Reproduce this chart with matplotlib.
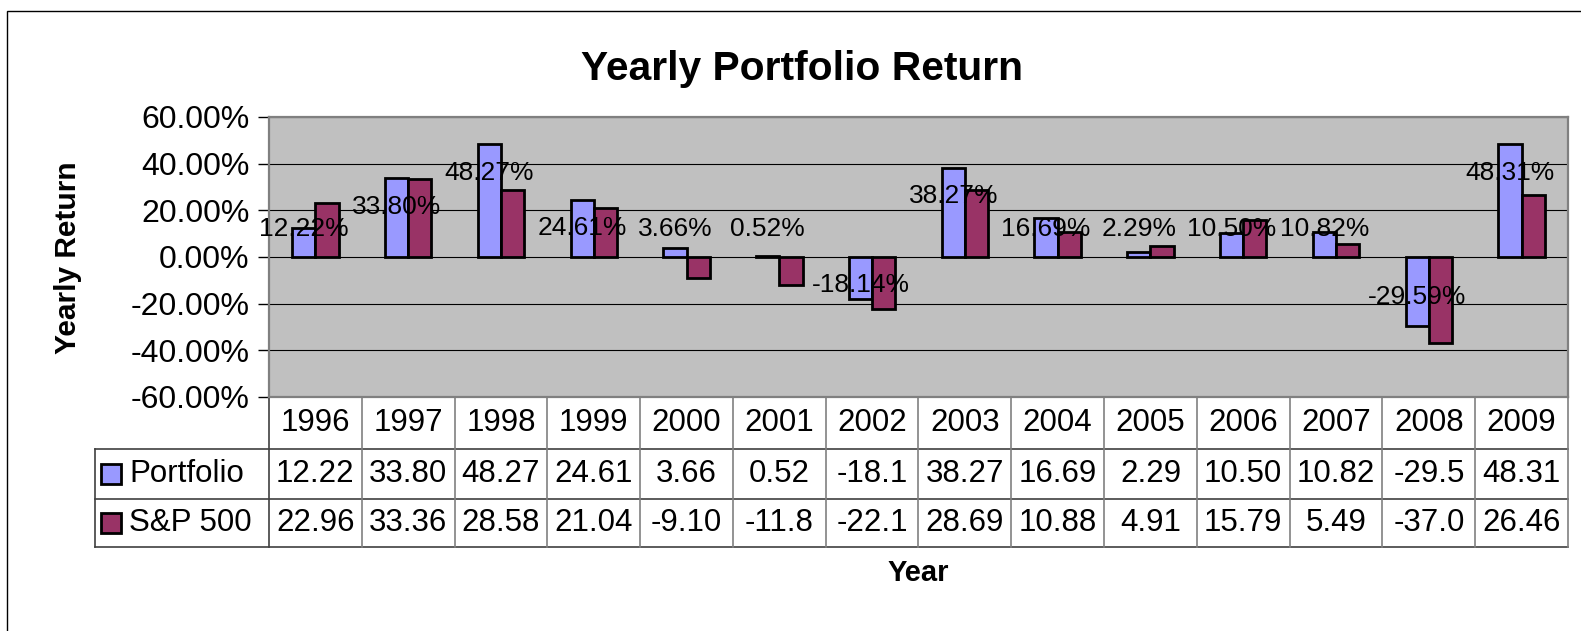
import matplotlib
matplotlib.use("Agg")
from matplotlib import pyplot as plt
from matplotlib.patches import Rectangle
from matplotlib.lines import Line2D
import numpy as np

plt.rcParams['font.family'] = ['Liberation Sans', 'DejaVu Sans']

# data
years = ['1996', '1997', '1998', '1999', '2000', '2001', '2002',
         '2003', '2004', '2005', '2006', '2007', '2008', '2009']
portfolio = [12.22, 33.80, 48.27, 24.61, 3.66, 0.52, -18.14,
             38.27, 16.69, 2.29, 10.50, 10.82, -29.59, 48.31]
sp500 = [22.96, 33.36, 28.58, 21.04, -9.10, -11.89, -22.10,
         28.69, 10.88, 4.91, 15.79, 5.49, -37.00, 26.46]
series_names = ['Portfolio', 'S&P 500']
yticks = [-60, -40, -20, 0, 20, 40, 60]

c_port = '#9999FF'
c_sp = '#993366'

W, H = 1581, 631
fig = plt.figure(figsize=(W / 100, H / 100), dpi=100)

# chart area border (runs past the right/bottom edge)
fig.patches.append(Rectangle((7 / W, -0.05), 1.05, 1 - 11 / H + 0.05,
                             transform=fig.transFigure, fill=False,
                             edgecolor='black', lw=1.0))

left, right, top, bottom = 269, 1568, 117, 397
ax = fig.add_axes([left / W, 1 - bottom / H, (right - left) / W, (bottom - top) / H])
ax.set_facecolor('#C0C0C0')

x = np.arange(len(years))
bw = 0.25
ax.bar(x - bw / 2, portfolio, bw, color=c_port, edgecolor='black', lw=2, zorder=3)
ax.bar(x + bw / 2, sp500, bw, color=c_sp, edgecolor='black', lw=2, zorder=3)

# data labels for portfolio series
for i, v in enumerate(portfolio):
    ly = np.sign(v) * max(12.2, abs(v) - 12.3)
    ax.text(i - bw / 2, ly, f'{v:.2f}%', ha='center', va='center',
            fontsize=19, zorder=5)

ax.set_xlim(-0.5, len(years) - 0.5)
ax.set_ylim(-60, 60)
ax.set_yticks(yticks)
ax.set_yticklabels([f'{t:.2f}%' for t in yticks], fontsize=23)
ax.yaxis.grid(True, color='black', lw=0.8, zorder=1)
ax.set_axisbelow(True)
ax.tick_params(axis='y', length=8, width=1, pad=6)
ax.set_xticks([])
for s in ax.spines.values():
    s.set_color('#808080')
    s.set_linewidth(1.6)

# data table under the plot
ph = bottom - top
rh = [52 / ph, 50 / ph, 48 / ph]
yb = [0, -rh[0], -rh[0] - rh[1], -rh[0] - rh[1] - rh[2]]
tr = ax.get_xaxis_transform()
colw = (right - left) / len(years)
x_leg = -0.5 - (left - 95) / colw

def hline(x0, x1, y, color='#404040'):
    ax.add_line(Line2D([x0, x1], [y, y], transform=tr, color=color, lw=1.2, clip_on=False))

def vline(xv, y0, y1, color='#808080'):
    ax.add_line(Line2D([xv, xv], [y0, y1], transform=tr, color=color, lw=1.2, clip_on=False))

hline(x_leg, len(years) - 0.5, yb[1])
hline(x_leg, len(years) - 0.5, yb[2])
hline(x_leg, len(years) - 0.5, yb[3])
vline(x_leg, yb[1], yb[3], '#404040')
for k in range(len(years) + 1):
    vline(k - 0.5, yb[0], yb[3], '#404040' if k == 0 else '#808080')

rows = [portfolio, sp500]
for i, yr in enumerate(years):
    ax.text(i, (yb[0] + yb[1]) / 2, yr, transform=tr, ha='center', va='center',
            fontsize=22.5, clip_on=False)
    for r, vals in enumerate(rows):
        ax.text(i, (yb[r + 1] + yb[r + 2]) / 2, f'{vals[i]:.2f}'[:5], transform=tr,
                ha='center', va='center', fontsize=22.5, clip_on=False)

sq_w = 20 / colw
sq_h = 20 / ph
for r, (name, col) in enumerate(zip(series_names, [c_port, c_sp])):
    yc = (yb[r + 1] + yb[r + 2]) / 2
    ax.add_patch(Rectangle((x_leg + 6 / colw, yc - sq_h / 2), sq_w, sq_h, transform=tr,
                           facecolor=col, edgecolor='black', lw=2, clip_on=False))
    ax.text(x_leg + 34 / colw, yc, name, transform=tr, ha='left', va='center',
            fontsize=22.5, clip_on=False)

fig.text(802 / W, 1 - 69 / H, 'Yearly Portfolio Return', ha='center', va='center',
         fontsize=29.3, fontweight='bold')
fig.text(68 / W, 1 - 258 / H, 'Yearly Return', ha='center', va='center',
         rotation=90, fontsize=21.5, fontweight='bold')
fig.text(918 / W, 1 - 573 / H, 'Year', ha='center', va='center',
         fontsize=21, fontweight='bold')

fig.savefig('out.png', dpi=100, facecolor='white')
